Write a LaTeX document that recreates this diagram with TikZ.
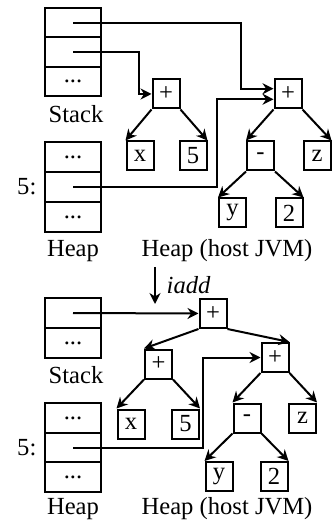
\documentclass[tikz,border=0pt]{standalone}
\usepackage{fontspec}
\setmainfont{Liberation Serif}
\usetikzlibrary{shapes,arrows.meta,positioning,calc}

\begin{document}
\begin{tikzpicture}[x=0.5pt,y=-0.5pt,line width=1pt,
    font=\fontsize{12.3}{14}\selectfont,
    cell/.style={draw,minimum width=28pt,minimum height=14.75pt,inner sep=0pt},
    tnode/.style={draw,minimum width=13.5pt,minimum height=14.5pt,inner sep=0pt},
    edge/.style={-{Stealth[length=5.5pt,width=5.5pt]}},
    ptr/.style={-{Stealth[length=5.5pt,width=5.5pt]}}]
    \useasboundingbox (0,0) rectangle (331,528);

    % Stack and heap before the add
    \node[cell] (sA1) at (73,22.75) {};
    \node[cell] (sA2) at (73,52.25) {};
    \node[cell] (sA3) at (73,81.75) {...};
    \node[anchor=base] (stackA) at (76,123) {Stack};

    \node[cell] (hA1) at (73,157) {...};
    \node[cell] (hA2) at (73,187) {};
    \node[cell] (hA3) at (73,217) {...};
    \node[left] (addrA) at (hA2.west) {5:};
    \node[anchor=base] (heapA) at (73,257) {Heap};

    % Expression trees on the host heap
    \node[tnode] (plusA) at (166,94) {+};
    \node[tnode] (xA) at (140,156) {x};
    \node[tnode] (fiveA) at (193,156) {5};

    \node[tnode] (plusB) at (288,94) {+};
    \node[tnode] (minusA) at (260.5,156) {-};
    \node[tnode] (zA) at (317,156) {z};
    \node[tnode] (yA) at (232.5,213) {y};
    \node[tnode] (twoA) at (289,213) {2};
    \node[anchor=base] (hostA) at (227,257) {Heap (host JVM)};

    \draw[edge] (plusA.south west) -- (xA.north west);
    \draw[edge] (plusA.south east) -- (fiveA.north east);
    \draw[edge] (plusB.south west) -- (minusA.north west);
    \draw[edge] (plusB.south east) -- (zA.north east);
    \draw[edge] (minusA.south west) -- (yA.north west);
    \draw[edge] (minusA.south east) -- (twoA.north east);

    % References
    \draw[ptr] (sA1.center) -- ++(168,0) |- (plusB.160);
    \draw[ptr] (sA2.center) -- ++(66,0) |- (plusA.west);
    \draw[ptr] (hA2.center) -- ++(144,0) |- (plusB.200);

    % Instruction step
    \coordinate (stepTop) at (155,267);
    \coordinate (stepBot) at (155,304);
    \draw[ptr] (stepTop) -- (stepBot) node[midway,right=2pt] {\itshape iadd};

    % Stack and heap after the add
    \node[cell] (sB1) at (73,313) {};
    \node[cell] (sB2) at (73,343) {...};
    \node[anchor=base] (stackB) at (76,383) {Stack};

    \node[cell] (hB1) at (73,418) {...};
    \node[cell] (hB2) at (73,447.5) {};
    \node[cell] (hB3) at (73,477) {...};
    \node[left] (addrB) at (hB2.west) {5:};
    \node[anchor=base] (heapB) at (73,514) {Heap};

    % Combined tree
    \node[tnode] (plusC) at (213,313.5) {+};
    \node[tnode] (plusD) at (158.5,364) {+};
    \node[tnode] (plusE) at (275,357.5) {+};
    \node[tnode] (xB) at (131,424) {x};
    \node[tnode] (fiveB) at (185.5,424) {5};
    \node[tnode] (minusB) at (247,418) {-};
    \node[tnode] (zB) at (302.5,418) {z};
    \node[tnode] (yB) at (219,476.5) {y};
    \node[tnode] (twoB) at (274,476.5) {2};
    \node[anchor=base] (hostB) at (227,514) {Heap (host JVM)};

    \draw[edge] (plusC.south west) -- (plusD.north west);
    \draw[edge] (plusC.south east) -- (plusE.north east);
    \draw[edge] (plusD.south west) -- (xB.north west);
    \draw[edge] (plusD.south east) -- (fiveB.north east);
    \draw[edge] (plusE.south west) -- (minusB.north west);
    \draw[edge] (plusE.south east) -- (zB.north east);
    \draw[edge] (minusB.south west) -- (yB.north west);
    \draw[edge] (minusB.south east) -- (twoB.north east);

    % References
    \draw[ptr] (sB1.center) -- (plusC.west);
    \draw[ptr] (hB2.center) -- ++(130,0) |- (plusE.west);
\end{tikzpicture}
\end{document}
